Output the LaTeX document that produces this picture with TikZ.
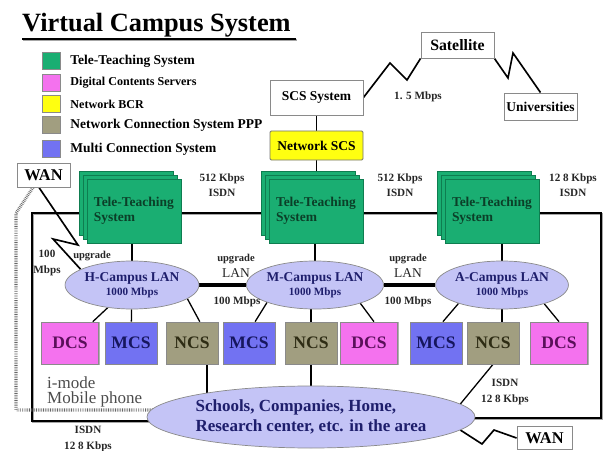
\documentclass[tikz,border=0pt]{standalone}
\usepackage{fontspec}
\setmainfont{Liberation Serif}
\usetikzlibrary{shapes.geometric,positioning,backgrounds,calc}
\definecolor{ttsgreen}{HTML}{1AAE72}
\definecolor{ttsedge}{HTML}{0E7D50}
\definecolor{ttstext}{HTML}{0B3F28}
\definecolor{dcspink}{HTML}{F472EE}
\definecolor{dcstext}{HTML}{5A0F5A}
\definecolor{bcryellow}{HTML}{FFFF10}
\definecolor{ncsolive}{HTML}{A19E80}
\definecolor{ncstext}{HTML}{2E2C14}
\definecolor{mcsblue}{HTML}{7272F2}
\definecolor{mcstext}{HTML}{16165E}
\definecolor{lanlilac}{HTML}{C4C4F6}
\definecolor{lantext}{HTML}{1E1E6C}
\definecolor{edgegray}{HTML}{8A8A8A}
\newcommand{\fsz}[2]{\fontsize{#1}{#2}\selectfont}
\tikzset{
  link/.style={draw=black, line width=1.1pt},
  zig/.style={draw=black, line width=1.4pt},
  lanlink/.style={draw=black, line width=3.6pt},
  frame/.style={draw=black, line width=1.8pt,
    preaction={draw=black!35, line width=1.8pt, transform canvas={xshift=0.8pt,yshift=-0.8pt}}},
  dotline/.style={draw=black!60, line width=2.6pt, dash pattern=on 0.6pt off 0.9pt},
  legendkey/.style={draw=edgegray, line width=0.4pt, minimum width=0.54cm, minimum height=0.5cm, inner sep=0pt},
  legendtext/.style={inner sep=0pt, anchor=west},
  plainbox/.style={draw=edgegray, fill=white, line width=0.8pt, inner sep=0pt, font=\bfseries\fsz{11.5}{12}},
  ttsbox/.style={draw=ttsedge, fill=ttsgreen, line width=0.5pt, minimum width=2.82cm, minimum height=1.92cm, inner sep=0pt},
  ttslabel/.style={align=left, text width=2.4cm, text=ttstext, font=\bfseries\fsz{11.5}{13}},
  lanoval/.style={ellipse, draw=edgegray, fill=lanlilac, line width=0.6pt, minimum width=3.84cm,
    minimum height=1.44cm, inner sep=0pt, align=center, text=lantext, font=\bfseries},
  unitbox/.style={draw=edgegray, line width=0.6pt, minimum width=1.56cm, minimum height=1.26cm,
    inner sep=0pt, font=\bfseries\fsz{15}{18},
    preaction={draw=black!30, line width=0.8pt, transform canvas={xshift=0.8pt,yshift=-0.8pt}}},
  dcsbox/.style={fill=dcspink, text=dcstext, minimum width=1.7cm},
  mcsbox/.style={fill=mcsblue, text=mcstext},
  ncsbox/.style={fill=ncsolive, text=ncstext},
  rate/.style={font=\bfseries\fsz{9.5}{13}, align=center, inner sep=0pt, text=black!85}
}

\begin{document}
\begin{tikzpicture}[x=0.03cm,y=-0.03cm]
  \path[use as bounding box] (0,0) rectangle (608,451);

  \node[font=\bfseries\fsz{22.5}{24}, anchor=base west, inner sep=0pt] (title) at (22,32) {Virtual Campus System};
  \draw[line width=1.5pt, preaction={draw=black!35, line width=1.5pt, transform canvas={xshift=0.8pt,yshift=-0.8pt}}]
    ($(title.south west)+(0,1)$) -- ($(title.south east)+(5,1)$);

  \foreach \colr/\txt/\yy/\sz [count=\i] in {ttsgreen/Tele-Teaching System/61/11.5,
      dcspink/Digital Contents Servers/83/10.3, bcryellow/Network BCR/104/10.3,
      ncsolive/Network Connection System PPP/125/11.5, mcsblue/Multi Connection System/149/11.5}
  {
    \node[legendkey, fill=\colr] (key\i) at (51,\yy) {};
    \node[legendtext, font=\bfseries\fsz{\sz}{\sz}, right=0.3cm of key\i] (keytext\i) {\txt};
  }

  \node[plainbox, minimum width=2.79cm, minimum height=1.05cm] (scs) at (316.5,97.5) {SCS System};
  \node[plainbox, fill=bcryellow, draw=black!55, minimum width=2.79cm, minimum height=0.87cm,
    rounded corners=1pt] (scsnet) at (316.5,145.5) {Network SCS};
  \node[plainbox, minimum width=2.19cm, minimum height=0.78cm, font=\bfseries\fsz{13.5}{14}] (sat) at (457.5,45) {Satellite};
  \node[plainbox, minimum width=2.19cm, minimum height=0.81cm] (univ) at (540.5,106.5) {Universities};
  \node[plainbox, minimum width=1.59cm, minimum height=0.72cm, font=\bfseries\fsz{14}{14}] (wanT) at (43.5,175) {WAN};
  \node[plainbox, minimum width=1.65cm, minimum height=0.69cm, font=\bfseries\fsz{14}{14}] (wanB) at (544.5,438) {WAN};
  \node[rate] (satrate) at (418,97) {1. 5 Mbps};

  \foreach \cx/\nm in {134/H,316/M,492/A}
  {
    \node[ttsbox] (tts\nm2) at (\cx-8,203) {};
    \node[ttsbox] (tts\nm1) at (\cx-4,207) {};
    \node[ttsbox, ttslabel] (tts\nm) at (\cx,211) {Tele-Teaching\\System};
  }
  \node[rate] (rateHM) at (222,185) {512 Kbps\\ISDN};
  \node[rate] (rateMA) at (400,185) {512 Kbps\\ISDN};
  \node[rate] (rateAW) at (573,185) {12 8 Kbps\\ISDN};

  \node[lanoval] (lanH) at (132,285) {\fsz{11.5}{12}H-Campus LAN\\\fsz{9.5}{10}1000 Mbps};
  \node[lanoval] (lanM) at (315,285) {\fsz{11.5}{12}M-Campus LAN\\\fsz{9.5}{10}1000 Mbps};
  \node[lanoval] (lanA) at (502,285) {\fsz{11.5}{12}A-Campus LAN\\\fsz{9.5}{10}1000 Mbps};
  \node[rate, font=\fsz{11.5}{14}] (upHM) at (236,266) {{\bfseries\fsz{9}{14}upgrade}\\LAN};
  \node[rate, font=\fsz{11.5}{14}] (upMA) at (408,266) {{\bfseries\fsz{9}{14}upgrade}\\LAN};
  \node[rate] (speedHM) at (237,302) {100 Mbps};
  \node[rate] (speedMA) at (408,302) {100 Mbps};
  \node[rate] (speedW) at (47,263) {100\\Mbps};
  \node[rate, font=\bfseries\fsz{9}{10}] (upW) at (92,256) {upgrade};

  \foreach \cx/\kind/\nm/\txt in {70/dcs/dcsH/DCS, 131/mcs/mcsH/MCS, 192/ncs/ncsH/NCS,
      249/mcs/mcsM/MCS, 311/ncs/ncsM/NCS, 369/dcs/dcsM/DCS,
      436/mcs/mcsA/MCS, 493/ncs/ncsA/NCS, 559/dcs/dcsA/DCS}
    \node[unitbox, \kind box] (\nm) at (\cx,343) {\txt};

  \node[ellipse, draw=edgegray, fill=lanlilac, line width=0.6pt, minimum width=9.84cm, minimum height=1.86cm,
    inner sep=0pt, align=left, text=lantext, font=\bfseries\fsz{14.5}{17}] (area) at (311,417)
    {Schools, Companies, Home,\\Research center, etc. in the area};
  \node[anchor=west, align=left, text=black!70, font=\fsz{14.5}{13}, inner sep=0pt] (mobile) at (47,392)
    {i-mode\\Mobile phone};
  \node[rate] (isdnA) at (505,392) {ISDN\\12 8 Kbps};
  \node[rate] (isdnW) at (88,439) {ISDN\\12 8 Kbps};

  \coordinate (frameTL) at (32,213);
  \coordinate (frameBL) at (32,421);
  \coordinate (frameTR) at (601,213);
  \coordinate (frameBR) at (601,418);
  \coordinate (phone) at (16,410);

  \begin{pgfonlayer}{background}
    \draw[frame] (frameBL -| area.center) -- (frameBL) -- (frameTL) -- (frameTR) -- (frameBR) -- (frameBR -| area.center);
    \draw[dotline] (wanT.230) -- (phone |- frameTL) -- (phone) -- (phone -| area.center);
    \draw[link] (scs) -- (scsnet);
    \draw[link] (scsnet.south) -- (scsnet.south |- ttsM2.north);
    \draw[zig] (scs.east) -- (390,63) -- (407,80) -- (sat.south west);
    \draw[zig] (sat.south east) -- (508,78) -- (513,53) -- (univ.north);
    \draw[zig] (wanT.250) -- (78,245) -- (53,239) -- (lanH.163);
    \draw[link] (lanH.north) -- (lanH.north |- ttsH.south);
    \draw[link] (lanM.north) -- (lanM.north |- ttsM.south);
    \draw[link] (lanA.north) -- (lanA.north |- ttsA.south);
    \draw[lanlink] (lanH) -- (lanM);
    \draw[lanlink] (lanM) -- (lanA);
    \draw[link] (lanH) -- (dcsH);
    \draw[link] (lanH) -- (mcsH);
    \draw[link] (lanH.-14) -- (ncsH.70);
    \draw[link] (lanM.200) -- (mcsM.74);
    \draw[link] (ncsM.north) -- (ncsM.north |- lanM.center);
    \draw[link] (lanM.-22) -- (dcsM.77);
    \draw[link] (lanA.203) -- (mcsA.72);
    \draw[link] (lanA.center) -- (lanA.center |- ncsA.north);
    \draw[link] (lanA.-24) -- (dcsA.north);
    \draw[link] (ncsH.-55) -- (ncsH.-55 |- area.center);
    \draw[link] (ncsM.south) -- (ncsM.south |- area.center);
    \draw[link] (ncsA.south) -- (area.5);
    \draw[zig] (area.-5) -- (482,444) -- (494,430) -- (wanB.west);
  \end{pgfonlayer}
\end{tikzpicture}
\end{document}
